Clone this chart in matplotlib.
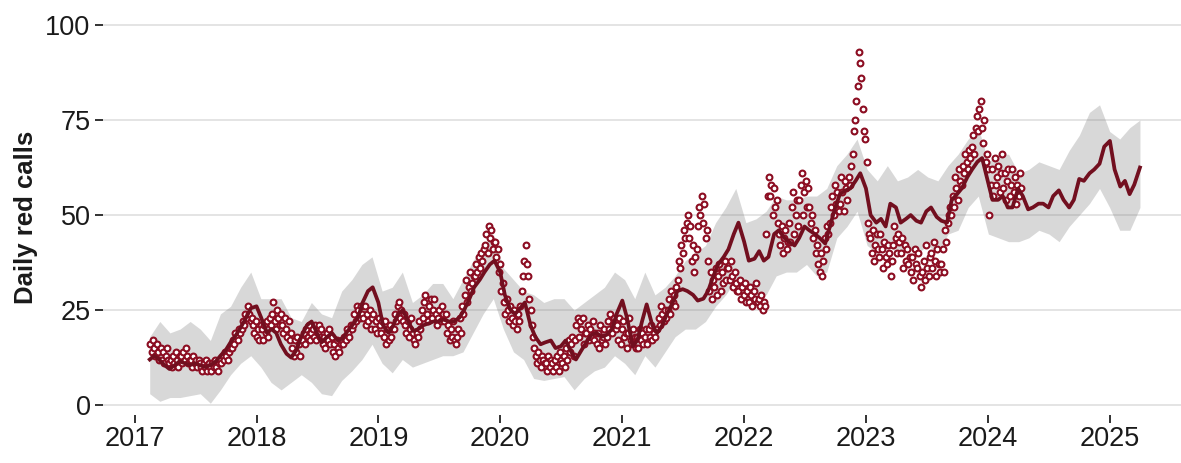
# Daily red calls: observed points, fitted/forecast line and prediction band
import numpy as np
import pandas as pd
import matplotlib
matplotlib.use('Agg')
import matplotlib.pyplot as plt

plt.rcParams['font.family'] = ['Liberation Sans', 'DejaVu Sans']

# ---------------------------- observed calls, 8 readings per month from 2017-02-17
obs_calls = [
    16, 14, 17, 15, 13, 16, 14, 12,   15, 12, 14, 11, 13, 15, 12, 11,
    12, 10, 13, 11, 14, 12, 10, 13,   13, 11, 14, 12, 15, 13, 11, 12,
    12, 10, 13, 11, 12, 10, 12, 11,   10, 9, 11, 10, 12, 9, 11, 10,
    9, 11, 10, 12, 10, 9, 11, 12,     11, 13, 12, 14, 13, 12, 14, 15,
    15, 17, 16, 19, 18, 17, 20, 19,   20, 22, 21, 24, 23, 26, 24, 22,      # 2017
    23, 21, 19, 22, 18, 20, 17, 21,   20, 17, 21, 19, 22, 18, 23, 21,
    24, 27, 22, 20, 25, 23, 21, 24,   21, 19, 23, 20, 18, 22, 17, 19,
    15, 13, 17, 14, 18, 16, 13, 17,   17, 19, 16, 20, 18, 21, 17, 19,
    20, 18, 21, 17, 19, 21, 18, 20,   16, 18, 15, 19, 17, 20, 16, 18,
    14, 16, 13, 17, 15, 14, 16, 17,   16, 18, 17, 20, 19, 18, 21, 20,
    21, 24, 22, 26, 25, 23, 26, 24,   23, 26, 21, 24, 22, 25, 20, 23,      # 2018
    24, 20, 22, 19, 23, 21, 19, 22,   18, 22, 16, 20, 17, 21, 18, 20,
    20, 24, 22, 26, 27, 23, 25, 22,   24, 21, 19, 22, 18, 20, 23, 19,
    17, 16, 19, 18, 22, 20, 25, 23,   27, 29, 24, 22, 26, 28, 23, 25,
    28, 24, 21, 23, 25, 22, 26, 24,   22, 24, 19, 21, 17, 20, 18, 22,
    17, 16, 18, 20, 23, 19, 26, 24,   29, 33, 27, 31, 35, 30, 32, 34,
    34, 37, 35, 39, 36, 40, 38, 41,   42, 45, 40, 47, 44, 46, 41, 43,      # 2019
    43, 39, 41, 35, 37, 30, 32, 27,   24, 28, 25, 22, 26, 23, 21, 25,
    22, 20, 24, 22, 26, 30, 34, 38,   42, 37, 34, 28, 25, 21, 18, 15,
    13, 11, 14, 12, 10, 13, 12, 11,   11, 9, 13, 10, 12, 11, 9, 12,
    10, 13, 9, 14, 12, 11, 13, 10,    15, 12, 17, 14, 16, 18, 13, 17,
    21, 23, 18, 22, 20, 23, 16, 19,   19, 21, 17, 20, 18, 22, 17, 19,
    16, 19, 15, 21, 17, 18, 20, 16,   18, 22, 20, 24, 19, 21, 23, 20,      # 2020
    21, 17, 23, 16, 20, 22, 18, 19,   15, 19, 23, 17, 16, 20, 18, 15,
    18, 15, 20, 17, 19, 16, 18, 20,   16, 20, 18, 21, 17, 19, 18, 20,
    20, 23, 21, 26, 24, 22, 25, 23,   25, 28, 24, 30, 27, 29, 26, 31,
    33, 38, 36, 42, 40, 46, 44, 48,   50, 44, 47, 38, 42, 35, 39, 41,
    47, 52, 50, 55, 48, 53, 44, 46,   38, 30, 35, 28, 33, 31, 36, 29,
    34, 37, 30, 35, 32, 38, 33, 36,   36, 33, 38, 34, 31, 35, 32, 30,      # 2021
    30, 33, 28, 31, 29, 32, 27, 30,   27, 31, 29, 26, 30, 28, 32, 27,
    28, 26, 29, 25, 27, 26, 45, 55,   60, 55, 58, 50, 57, 52, 54, 48,
    45, 42, 47, 40, 44, 46, 41, 43,   48, 43, 52, 56, 45, 50, 54, 47,
    54, 58, 61, 50, 56, 59, 52, 57,   52, 48, 50, 44, 46, 40, 42, 37,
    35, 40, 34, 38, 44, 41, 47, 45,   48, 52, 55, 50, 58, 53, 56, 51,
    53, 60, 56, 51, 59, 57, 54, 60,   58, 63, 66, 72, 75, 80, 84, 93,      # 2022
    90, 86, 78, 72, 70, 64, 48, 45,   44, 40, 46, 38, 42, 45, 41, 39,
    45, 41, 36, 43, 39, 37, 42, 40,   34, 38, 42, 47, 44, 40, 45, 43,
    40, 44, 36, 42, 38, 41, 37, 39,   35, 39, 33, 41, 37, 36, 40, 34,
    31, 35, 38, 33, 42, 36, 34, 39,   40, 36, 43, 38, 34, 41, 37, 35,
    37, 41, 35, 46, 43, 48, 50, 52,   50, 55, 52, 60, 57, 54, 62, 59,
    58, 63, 61, 66, 64, 62, 67, 65,   68, 71, 66, 73, 76, 72, 78, 80,      # 2023
    73, 69, 75, 64, 66, 62, 50, 58,   62, 55, 65, 58, 60, 63, 56, 61,
    66, 57, 61, 54, 59, 62, 55, 58,   62, 56, 60, 53, 58, 55, 61, 57,      # 2024
]

# ---------------------------- fitted + forecast, twice a month from 2017-02-15
fit_calls = [
    12, 13, 12, 10.5, 9.5, 10.5, 11.5, 11, 10.5, 11, 10.5, 10, 10.5, 11.5, 13, 14.5,
    16.5, 18.5, 20.5, 23, 25.5,                                                   # 2017
    26, 23, 19, 20, 19, 16, 13.5, 12.5, 14.5, 18, 21, 22,
    19, 16.5, 18, 19, 17, 17.5, 19.5, 21, 23, 27, 30, 31,                         # 2018
    27, 21, 19, 21, 24, 25, 22, 19.5, 20, 21, 21.5, 22,
    22, 22.5, 22, 22, 23, 25, 28, 31, 33, 35, 37, 38,                             # 2019
    35, 29, 25, 24, 25.5, 27, 21, 18, 16, 16.5, 17, 15,
    15.5, 17, 14, 12, 14.5, 16.5, 18.5, 19, 18, 18.5, 20, 24,                     # 2020
    27.5, 23, 15.5, 17, 22, 26.5, 21, 19, 21, 24, 27, 30,
    30.5, 30, 29, 27.5, 28, 30, 34, 37, 39, 41, 45, 48,                           # 2021
    43, 38, 38.5, 40.5, 38, 39, 45, 46, 44, 43, 42, 44,
    47, 46, 45, 44, 42.5, 47, 52, 55.5, 56.5, 57, 59, 61,                         # 2022
    57, 50, 48, 49, 47, 53, 52, 48, 49, 50, 48.5, 48,
    51, 52, 49.5, 48.5, 48, 54, 55.5, 57, 60, 62, 64, 65,                         # 2023
    59, 54, 54, 55, 52, 52, 57, 55, 51.5, 52, 53, 53,
    52, 55, 56.5, 54, 52, 54, 59.5, 59, 61, 62, 63.5, 68,                         # 2024
    69.5, 62, 57.5, 59, 55.5, 58, 62.5,                                           # 2025
]

# ---------------------------- prediction band, monthly 2017-02-15 .. 2025-04-01
band_lo = [
    3, 1, 2, 2, 2.5, 3, 0.5, 4, 8, 11, 13,
    10, 6, 4, 6, 8, 6, 3, 2.5, 6.5, 9, 12, 16,
    11, 8.5, 12, 10, 11, 12, 13, 13, 14, 19, 24, 28,
    20, 14, 12, 7, 6.5, 7, 7.5, 4, 7, 9, 10, 13,
    11, 8, 13, 10, 14, 18, 20, 20, 22, 26, 29, 33,
    28, 29, 29, 34, 35, 35, 37, 34, 35, 44, 47, 51,
    42, 40, 42, 40, 41, 40, 42, 40, 45, 46, 52, 55,
    45, 44, 43, 43, 44, 46, 45, 43, 47, 50, 53, 57,
    52, 46, 46, 52,
]
band_hi = [
    18, 22, 19, 20, 22, 20, 17, 24, 26, 31, 35,
    28, 28, 28, 23, 22, 27, 24, 23, 30, 33, 37, 39,
    30, 31, 35, 27, 29, 32, 32, 28, 33, 38, 42, 45,
    36, 33, 30, 29, 27, 28, 28, 25, 27, 29, 31, 35,
    33, 28, 35, 29, 31, 34, 38, 40, 42, 48, 52, 57,
    48, 49, 51, 55, 54, 54, 55, 55, 57, 63, 66, 70,
    62, 59, 63, 59, 60, 62, 60, 59, 63, 66, 70, 73,
    64, 66, 66, 61, 62, 64, 63, 62, 67, 71, 77, 79,
    72, 70, 73, 75,
]

year_ticks = list(range(2017, 2026))
y_ticks = [0, 25, 50, 75, 100]

obs_dates = pd.date_range('2017-02-17', '2024-04-10', periods=len(obs_calls))
fit_dates = pd.date_range('2017-02-15', periods=len(fit_calls), freq='SMS')
band_dates = pd.date_range('2017-02-15', '2025-04-01', periods=len(band_lo))

pt_col = '#8c0d22'
line_col = '#720f1f'

W, H = 1181, 463
fig = plt.figure(figsize=(W / 100, H / 100), dpi=100)
ax = fig.add_axes([103 / W, 1 - 415 / H, (W - 103) / W, (415 - 6) / H])

ax.fill_between(band_dates, band_lo, band_hi, color='#7f7f7f', alpha=0.3, lw=0, zorder=1)
ax.plot(obs_dates, obs_calls, 'o', ms=4.2, mfc='white', mec=pt_col, mew=1.5, zorder=2)
ax.plot(fit_dates, fit_calls, color=line_col, lw=2.7, zorder=3)

ax.set_xlim(pd.Timestamp('2016-09-28'), pd.Timestamp('2025-08-02'))
ax.set_ylim(-2.6, 105)
ax.set_yticks(y_ticks)
ax.set_xticks([pd.Timestamp(f'{y}-01-01') for y in year_ticks])
ax.set_xticklabels([str(y) for y in year_ticks])

ax.grid(axis='y', color='#dcdcdc', lw=1.1)
ax.set_axisbelow(True)
for s in ax.spines.values():
    s.set_visible(False)
ax.tick_params(axis='both', length=5.5, width=1.3, color='#222222',
               labelsize=19.5, labelcolor='#1a1a1a')
ax.tick_params(axis='y', pad=3.5)
ax.tick_params(axis='x', pad=2.5)

fig.text(26 / W, 1 - 217 / H, 'Daily red calls', rotation=90, ha='center', va='center',
         fontsize=18.5, fontweight='bold', color='#1a1a1a')

fig.savefig('out.png', dpi=100)
